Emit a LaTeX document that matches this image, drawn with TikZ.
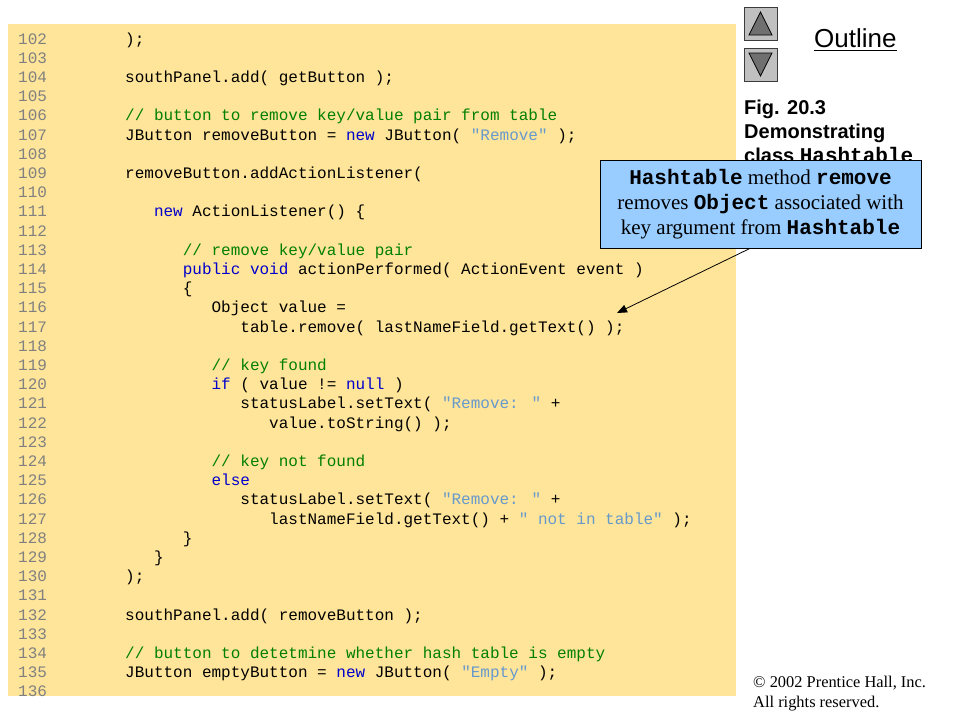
\documentclass[tikz,border=0pt]{standalone}
\usepackage{fontspec}
\usetikzlibrary{arrows.meta}
\newfontfamily\codefont{Liberation Mono}
\newfontfamily\arialf{Liberation Sans}
\newfontfamily\timesf{Liberation Serif}
\definecolor{panelbg}{RGB}{255,229,153}
\definecolor{cmtgreen}{RGB}{0,128,0}
\definecolor{kwblue}{RGB}{0,0,204}
\definecolor{strblue}{RGB}{102,153,204}
\definecolor{lngray}{RGB}{128,128,128}
\definecolor{boxblue}{RGB}{153,204,255}
\definecolor{btnfill}{RGB}{192,192,192}
\definecolor{trifill}{RGB}{112,112,112}
\newcommand{\jkw}[1]{\textcolor{kwblue}{#1}}
\newcommand{\jcm}[1]{\textcolor{cmtgreen}{#1}}
\newcommand{\jst}[1]{\textcolor{strblue}{#1}}
\newcommand{\bc}[1]{{\codefont\bfseries #1}}
\begin{document}
\begin{tikzpicture}[x=1pt,y=-1pt,
  lnum/.style={anchor=base west,inner sep=0pt,text=lngray,font=\codefont\fontsize{16}{19.2}\selectfont},
  codeln/.style={anchor=base west,inner sep=0pt,font=\codefont\fontsize{16}{19.2}\selectfont},
  sidetext/.style={anchor=base west,inner sep=0pt,font=\arialf\bfseries\fontsize{20}{24}\selectfont},
  copytext/.style={anchor=base west,inner sep=0pt,font=\timesf\fontsize{16.4}{20}\selectfont},
  btn/.style={fill=btnfill,draw={rgb,255:red,60;green,60;blue,60},line width=1pt},
  tri/.style={fill=trifill,draw=black,line width=0.8pt},
  callout/.style={rectangle,fill=boxblue,draw=black,line width=0.8pt,minimum width=321pt,minimum height=88pt,inner sep=0pt,align=center,font=\timesf\fontsize{21}{25}\selectfont},
  pointer/.style={draw=black,line width=0.8pt,-{Triangle[length=10pt,width=8pt]}}
]
\useasboundingbox (0,0) rectangle (960,720);
\fill[white] (0,0) rectangle (960,720);
% code panel
\fill[panelbg] (8,24) rectangle (736,696);
% line numbers
\foreach \n [count=\i from 0] in {102,...,136} {
  \node[lnum] (ln\n) at (18,{44+19.2*\i}) {\n};
}
% code lines
\def\cx#1{125+28.8*#1}
\node[codeln] (c102) at ({\cx0},{44+19.2*0}) {);};
\node[codeln] (c104) at ({\cx0},{44+19.2*2}) {southPanel.add( getButton );};
\node[codeln] (c106) at ({\cx0},{44+19.2*4}) {\jcm{// button to remove key/value pair from table}};
\node[codeln] (c107) at ({\cx0},{44+19.2*5}) {JButton removeButton = \jkw{new} JButton( \jst{"Remove"} );};
\node[codeln] (c109) at ({\cx0},{44+19.2*7}) {removeButton.addActionListener(};
\node[codeln] (c111) at ({\cx1},{44+19.2*9}) {\jkw{new} ActionListener() \{};
\node[codeln] (c113) at ({\cx2},{44+19.2*11}) {\jcm{// remove key/value pair}};
\node[codeln] (c114) at ({\cx2},{44+19.2*12}) {\jkw{public void} actionPerformed( ActionEvent event )};
\node[codeln] (c115) at ({\cx2},{44+19.2*13}) {\{};
\node[codeln] (c116) at ({\cx3},{44+19.2*14}) {Object value =};
\node[codeln] (c117) at ({\cx4},{44+19.2*15}) {table.remove( lastNameField.getText() );};
\node[codeln] (c119) at ({\cx3},{44+19.2*17}) {\jcm{// key found}};
\node[codeln] (c120) at ({\cx3},{44+19.2*18}) {\jkw{if} ( value != \jkw{null} )};
\node[codeln] (c121) at ({\cx4},{44+19.2*19}) {statusLabel.setText( \jst{"Remove: "} +};
\node[codeln] (c122) at ({\cx5},{44+19.2*20}) {value.toString() );};
\node[codeln] (c124) at ({\cx3},{44+19.2*22}) {\jcm{// key not found}};
\node[codeln] (c125) at ({\cx3},{44+19.2*23}) {\jkw{else}};
\node[codeln] (c126) at ({\cx4},{44+19.2*24}) {statusLabel.setText( \jst{"Remove: "} +};
\node[codeln] (c127) at ({\cx5},{44+19.2*25}) {lastNameField.getText() + \jst{" not in table"} );};
\node[codeln] (c128) at ({\cx2},{44+19.2*26}) {\}};
\node[codeln] (c129) at ({\cx1},{44+19.2*27}) {\}};
\node[codeln] (c130) at ({\cx0},{44+19.2*28}) {);};
\node[codeln] (c132) at ({\cx0},{44+19.2*30}) {southPanel.add( removeButton );};
\node[codeln] (c134) at ({\cx0},{44+19.2*32}) {\jcm{// button to detetmine whether hash table is empty}};
\node[codeln] (c135) at ({\cx0},{44+19.2*33}) {JButton emptyButton = \jkw{new} JButton( \jst{"Empty"} );};
% navigation buttons
\draw[btn] (744,7) rectangle (777,40);
\draw[tri] (760.5,12) -- (772,35) -- (749,35) -- cycle;
\draw[btn] (744,48) rectangle (777,81);
\draw[tri] (749,53) -- (772,53) -- (760.5,76) -- cycle;
% Outline
\node[anchor=base west,inner sep=0pt,font=\arialf\fontsize{26}{30}\selectfont] (outl) at (814,47) {Outline};
\draw[line width=1.5pt] ([yshift=-3.5pt]outl.base west) -- ([yshift=-3.5pt]outl.base east);
% side caption
\node[sidetext] (fig) at (744,114) {Fig. 20.3};
\node[sidetext] (dem) at (744,138) {Demonstrating};
\node[sidetext] (cls) at (744,162) {class {\codefont\fontsize{21}{24}\selectfont Hashtable}};
% callout
\node[callout] (box) at (760.5,204) {\bc{Hashtable} method \bc{remove}\\removes \bc{Object} associated with\\key argument from \bc{Hashtable}};
\coordinate (tip) at (617,313);
\draw[pointer] ([xshift=-10.5pt]box.south) -- (tip);
% copyright
\node[copytext] (cp1) at (753,687) {\textcopyright{} 2002 Prentice Hall, Inc.};
\node[copytext] (cp2) at (753,707) {All rights reserved.};
\end{tikzpicture}
\end{document}
